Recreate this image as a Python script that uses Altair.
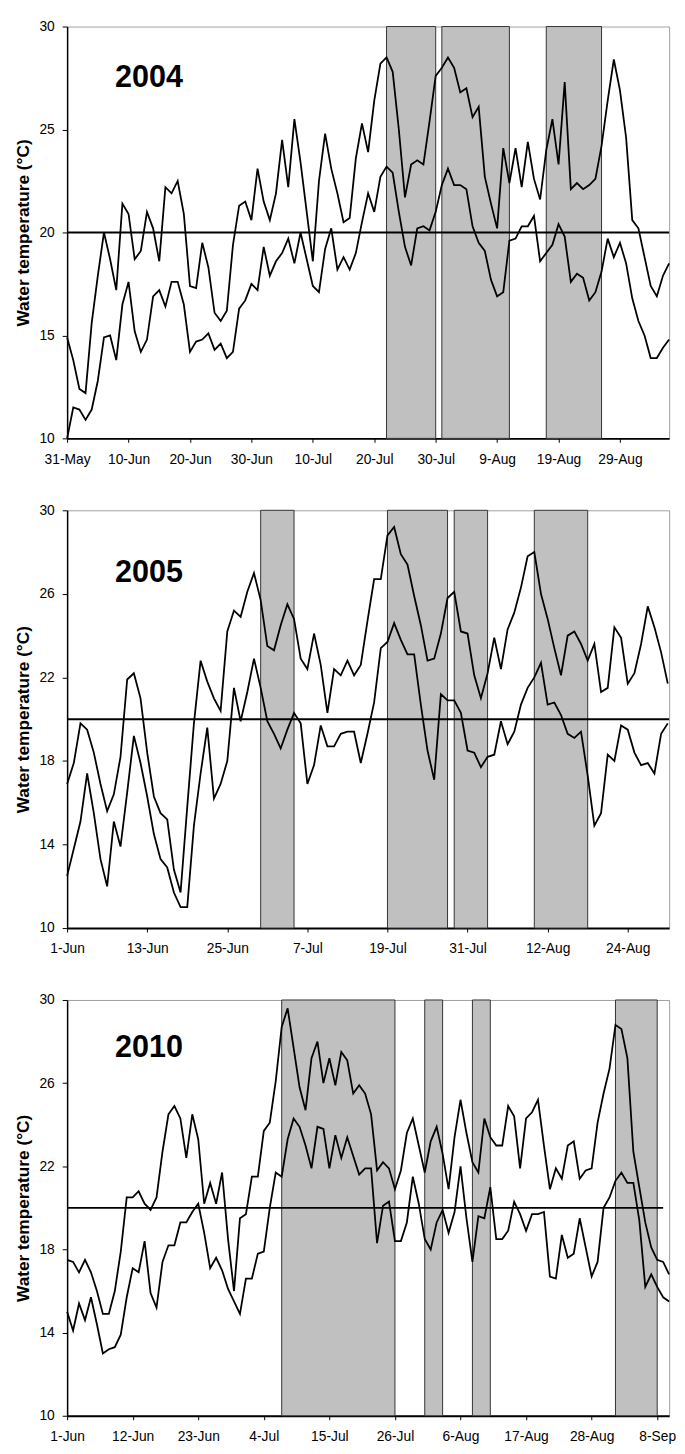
import json
import altair as alt
import pandas as pd

FONT = "Liberation Sans"
Y_TITLE = "Water temperature (°C)"
THRESHOLD = 20

# ---------------- 2004 (day 0 = 31-May) ----------------
year_2004 = "2004"
max_2004 = [14.9, 13.8, 12.4, 12.2, 15.6, 17.9, 20.0, 18.7, 17.2, 21.4,
            20.9, 18.7, 19.1, 21.0, 20.2, 18.6, 22.2, 21.9, 22.5, 20.9,
            17.4, 17.3, 19.5, 18.3, 16.1, 15.7, 16.2, 19.4, 21.3, 21.5,
            20.6, 23.1, 21.5, 20.6, 21.9, 24.5, 22.2, 25.5, 23.4, 21.0,
            18.6, 22.5, 24.8, 23.1, 21.9, 20.5, 20.7, 23.6, 25.3, 23.9,
            26.4, 28.2, 28.5, 27.8, 25.0, 21.7, 23.3, 23.5, 23.3, 25.4,
            27.6, 28.0, 28.5, 28.0, 26.8, 27.0, 25.6, 26.1, 22.7, 21.4,
            20.2, 24.1, 22.4, 24.1, 22.2, 24.4, 22.6, 21.6, 24.0, 25.5,
            23.3, 27.3, 22.1, 22.4, 22.1, 22.3, 22.6, 24.2, 26.4, 28.4,
            26.9, 24.6, 20.6, 20.2, 18.8, 17.4, 16.9, 17.9, 18.5]
min_2004 = [10.0, 11.5, 11.4, 10.9, 11.4, 12.8, 14.9, 15.0, 13.8, 16.5,
            17.6, 15.2, 14.2, 14.8, 16.9, 17.2, 16.4, 17.6, 17.6, 16.5,
            14.2, 14.7, 14.8, 15.1, 14.3, 14.6, 13.9, 14.2, 16.3, 16.7,
            17.5, 17.2, 19.3, 17.9, 18.6, 19.0, 19.7, 18.5, 20.0, 18.7,
            17.4, 17.1, 19.2, 20.2, 18.2, 18.8, 18.2, 19.0, 20.5, 21.9,
            21.0, 22.7, 23.2, 22.9, 21.0, 19.3, 18.4, 20.2, 20.3, 20.1,
            21.0, 22.3, 23.1, 22.3, 22.3, 22.1, 20.3, 19.5, 19.1, 17.7,
            16.9, 17.1, 19.6, 19.7, 20.3, 20.3, 20.8, 18.6, 19.0, 19.4,
            20.4, 19.8, 17.6, 18.0, 17.8, 16.7, 17.1, 18.1, 19.7, 18.8,
            19.5, 18.5, 16.8, 15.7, 15.0, 13.9, 13.9, 14.4, 14.8]
band_start_2004 = [52, 61, 78]
band_end_2004 = [60, 72, 87]
xlabels_2004 = ["31-May", "10-Jun", "20-Jun", "30-Jun", "10-Jul", "20-Jul",
                "30-Jul", "9-Aug", "19-Aug", "29-Aug"]
xstep_2004 = 10
xmax_2004 = 98
yticks_2004 = [10, 15, 20, 25, 30]
rule_end_2004 = 98

# ---------------- 2005 (day 0 = 1-Jun) ----------------
year_2005 = "2005"
max_2005 = [16.9, 17.9, 19.8, 19.5, 18.4, 16.9, 15.6, 16.4, 18.2, 21.9,
            22.2, 21.0, 18.4, 16.3, 15.5, 15.2, 12.8, 11.7, 15.8, 19.8,
            22.8, 21.8, 21.0, 20.4, 24.2, 25.2, 24.9, 26.1, 27.0, 25.7,
            23.5, 23.3, 24.5, 25.5, 24.8, 22.9, 22.4, 24.1, 22.6, 20.3,
            22.4, 22.1, 22.8, 22.1, 22.6, 24.7, 26.7, 26.7, 28.8, 29.2,
            27.9, 27.4, 25.9, 24.5, 22.8, 22.9, 24.1, 25.8, 26.1, 24.2,
            24.1, 22.1, 21.0, 22.2, 23.9, 22.4, 24.3, 25.1, 26.3, 27.8,
            28.0, 26.0, 24.8, 23.4, 22.1, 24.0, 24.2, 23.6, 22.8, 23.6,
            21.3, 21.5, 24.4, 23.9, 21.7, 22.2, 23.6, 25.4, 24.4, 23.2,
            21.7]
min_2005 = [12.5, 13.8, 15.1, 17.4, 15.5, 13.3, 12.0, 15.1, 13.9, 16.5,
            19.2, 17.9, 16.3, 14.5, 13.3, 12.9, 11.7, 11.0, 11.0, 14.9,
            17.4, 19.6, 16.2, 16.9, 18.0, 21.5, 19.9, 21.3, 22.9, 21.5,
            19.9, 19.3, 18.6, 19.5, 20.3, 19.8, 16.9, 17.8, 19.7, 18.7,
            18.7, 19.3, 19.4, 19.4, 17.9, 19.3, 20.8, 23.4, 23.7, 24.6,
            23.8, 23.1, 23.1, 20.7, 18.5, 17.1, 21.2, 20.9, 20.9, 20.3,
            18.5, 18.4, 17.7, 18.2, 18.3, 19.9, 18.8, 19.4, 20.7, 21.5,
            22.0, 22.7, 20.7, 20.8, 20.2, 19.3, 19.1, 19.4, 17.3, 14.9,
            15.5, 18.3, 18.0, 19.7, 19.5, 18.4, 17.8, 17.9, 17.4, 19.3,
            19.8]
band_start_2005 = [29, 48, 58, 70]
band_end_2005 = [34, 57, 63, 78]
xlabels_2005 = ["1-Jun", "13-Jun", "25-Jun", "7-Jul", "19-Jul", "31-Jul",
                "12-Aug", "24-Aug"]
xstep_2005 = 12
xmax_2005 = 90.2
yticks_2005 = [10, 14, 18, 22, 26, 30]
rule_end_2005 = 90.2

# ---------------- 2010 (day 0 = 1-Jun) ----------------
year_2010 = "2010"
max_2010 = [17.5, 17.4, 16.9, 17.5, 16.9, 16.0, 14.9, 14.9, 16.0, 17.9,
            20.5, 20.5, 20.8, 20.2, 19.9, 20.5, 22.7, 24.5, 24.9, 24.3,
            22.4, 24.5, 23.3, 20.2, 21.2, 20.2, 21.7, 18.5, 16.0, 19.5,
            19.7, 21.5, 21.5, 23.7, 24.1, 26.1, 28.7, 29.6, 27.7, 25.8,
            24.7, 27.2, 28.0, 26.0, 27.2, 25.9, 27.5, 27.1, 25.5, 25.9,
            25.5, 24.5, 21.8, 22.2, 21.9, 20.9, 21.8, 23.6, 24.3, 23.0,
            21.7, 23.2, 23.9, 22.6, 20.9, 23.4, 25.2, 23.6, 22.2, 21.7,
            24.3, 23.4, 23.0, 23.0, 24.9, 24.4, 21.9, 24.3, 24.6, 25.2,
            23.0, 20.9, 21.9, 21.4, 23.0, 23.2, 21.4, 21.8, 21.9, 24.1,
            25.5, 26.7, 28.8, 28.6, 27.2, 22.7, 21.0, 19.3, 18.1, 17.5,
            17.4, 16.8]
min_2010 = [15.0, 14.1, 15.4, 14.6, 15.7, 14.4, 13.0, 13.2, 13.3, 13.9,
            15.7, 17.1, 16.9, 18.4, 15.9, 15.2, 17.4, 18.2, 18.2, 19.3,
            19.3, 19.8, 20.2, 18.8, 17.1, 17.6, 17.0, 16.1, 15.5, 14.9,
            16.6, 16.6, 17.8, 17.9, 20.0, 21.7, 21.5, 23.3, 24.3, 23.9,
            23.0, 21.9, 23.9, 23.8, 21.9, 23.5, 22.4, 23.4, 22.5, 21.6,
            21.9, 21.9, 18.3, 20.1, 20.3, 18.4, 18.4, 19.3, 21.5, 20.2,
            18.5, 18.0, 19.3, 19.9, 18.8, 19.8, 22.0, 19.5, 17.4, 19.6,
            19.5, 21.0, 18.5, 18.5, 18.9, 20.3, 19.7, 18.9, 19.7, 19.7,
            19.8, 16.7, 16.6, 18.7, 17.6, 17.8, 19.5, 18.1, 16.7, 17.4,
            20.0, 20.5, 21.3, 21.7, 21.2, 21.2, 19.4, 16.2, 16.8, 16.2,
            15.7, 15.5]
band_start_2010 = [36, 60, 68, 92]
band_end_2010 = [55, 63, 71, 99]
xlabels_2010 = ["1-Jun", "12-Jun", "23-Jun", "4-Jul", "15-Jul", "26-Jul",
                "6-Aug", "17-Aug", "28-Aug", "8-Sep"]
xstep_2010 = 11
xmax_2010 = 101
yticks_2010 = [10, 14, 18, 22, 26, 30]
rule_end_2010 = 100

PANEL_W = 611


def panel(year, vmax, vmin, bstart, bend, xlabels, xstep, xmax, yticks,
          rule_end, height, label_y):
    n = len(vmax)
    lines = pd.DataFrame({
        "day": list(range(n)) + list(range(len(vmin))),
        "temp": vmax + vmin,
        "series": ["max"] * n + ["min"] * len(vmin),
    })
    bands = pd.DataFrame({"start": bstart, "end": bend})
    thr = pd.DataFrame({"x0": [0], "x1": [rule_end], "thr": [THRESHOLD]})
    yr = pd.DataFrame({"year": [year]})

    xscale = alt.Scale(domain=[0, xmax], nice=False, zero=False)
    yscale = alt.Scale(domain=[10, 30], nice=False, zero=False)
    xaxis = alt.Axis(
        values=[i * xstep for i in range(len(xlabels))],
        labelExpr=f"{json.dumps(xlabels)}[round(datum.value / {xstep})]",
        labelFlush=False, tickSize=4, labelPadding=10, domainWidth=2,
        title=None,
    )
    yaxis = alt.Axis(values=yticks, tickSize=5, labelPadding=8,
                     titlePadding=7, domainWidth=1.5, title=Y_TITLE)

    band_layer = alt.Chart(bands).mark_rect(
        fill="#c0c0c0", stroke="#333333", strokeWidth=1
    ).encode(
        x=alt.X("start:Q", scale=xscale, axis=xaxis, title=None),
        x2="end:Q",
        y=alt.value(0),
        y2=alt.value(height),
    )
    rule_layer = alt.Chart(thr).mark_rule(color="black", strokeWidth=2).encode(
        x=alt.X("x0:Q", title=None),
        x2="x1:Q",
        y=alt.Y("thr:Q", scale=yscale, axis=yaxis, title=Y_TITLE),
    )
    line_layer = alt.Chart(lines).mark_line(
        color="black", strokeWidth=1.8
    ).encode(
        x=alt.X("day:Q", title=None),
        y=alt.Y("temp:Q", title=Y_TITLE),
        detail="series:N",
    )
    text_layer = alt.Chart(yr).mark_text(
        font=FONT, fontSize=31, fontWeight="bold", color="black",
        align="center", baseline="middle"
    ).encode(text="year:N", x=alt.value(83), y=alt.value(label_y))

    return alt.layer(band_layer, rule_layer, line_layer, text_layer).properties(
        width=PANEL_W, height=height
    )


p1 = panel(year_2004, max_2004, min_2004, band_start_2004, band_end_2004,
           xlabels_2004, xstep_2004, xmax_2004, yticks_2004, rule_end_2004,
           418, 52)
p2 = panel(year_2005, max_2005, min_2005, band_start_2005, band_end_2005,
           xlabels_2005, xstep_2005, xmax_2005, yticks_2005, rule_end_2005,
           424, 64)
p3 = panel(year_2010, max_2010, min_2010, band_start_2010, band_end_2010,
           xlabels_2010, xstep_2010, xmax_2010, yticks_2010, rule_end_2010,
           422, 49)

chart = alt.vconcat(p1, p2, p3, spacing=36).properties(
    padding={"left": 5, "right": 0, "top": 0, "bottom": 0}
).configure(font=FONT).configure_view(
    stroke="#a0a0a0", strokeWidth=1
).configure_axis(
    grid=False, domainColor="black", tickColor="black", labelColor="black",
    labelFont=FONT, labelFontSize=14, titleFont=FONT, titleFontSize=17.5,
    titleFontWeight="bold", titleColor="black",
)

chart.save("out.html", embed_options={"renderer": "svg", "actions": False})
